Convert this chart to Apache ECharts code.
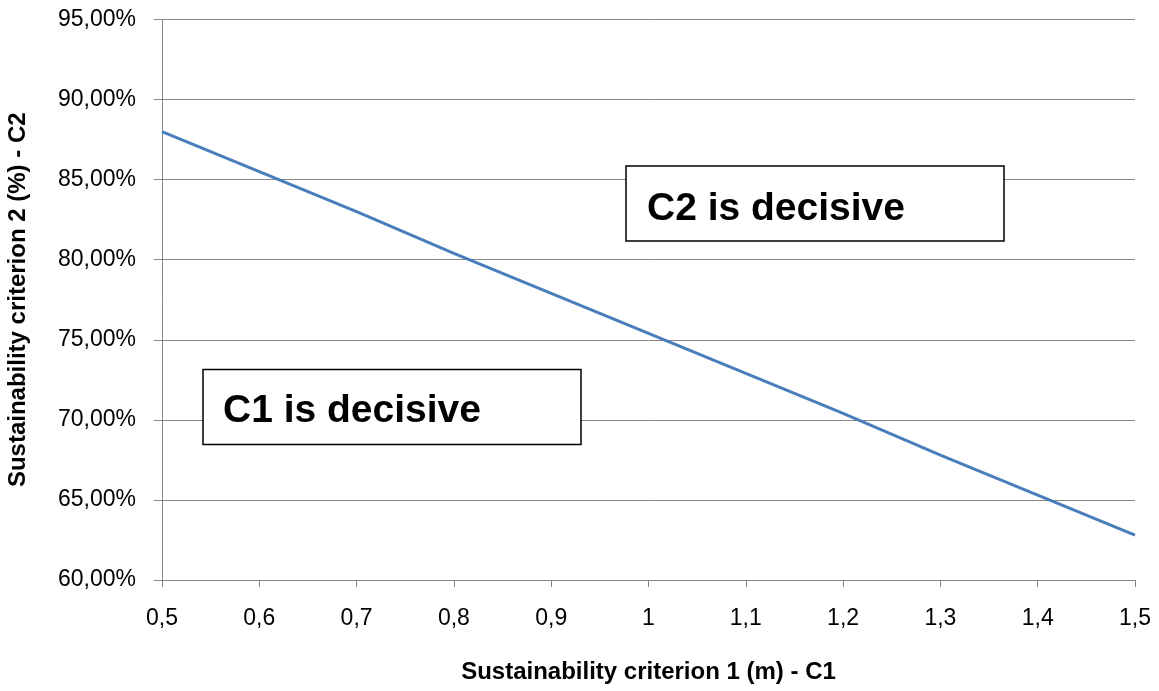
<!DOCTYPE html>
<html>
<head>
<meta charset="utf-8">
<script src="https://cdn.jsdelivr.net/npm/echarts@6/dist/echarts.min.js"></script>
<style>
html,body{margin:0;padding:0;background:#fff;}
#chart{width:1159px;height:691px;}
</style>
</head>
<body>
<div id="chart"></div>
<script>
// Data
var xCategories = ['0,5','0,6','0,7','0,8','0,9','1','1,1','1,2','1,3','1,4','1,5'];
var c2Values = [88.0, 85.5, 83.0, 80.4, 77.9, 75.4, 72.9, 70.4, 67.8, 65.3, 62.8];
var xTitle = 'Sustainability criterion 1 (m) - C1';
var yTitle = 'Sustainability criterion 2 (%) - C2';
var yMin = 60, yMax = 95, yStep = 5;
var boxC2 = 'C2 is decisive';
var boxC1 = 'C1 is decisive';

var FONT = '"Liberation Sans", Arial, sans-serif';
var chart = echarts.init(document.getElementById('chart'), null, {renderer:'canvas'});
var grid = {left:162, right:24, top:19.5, bottom:111, containLabel:false, outerBoundsMode:'none'};

chart.setOption({
  animation:false,
  backgroundColor:'#ffffff',
  grid: grid,
  xAxis:{
    type:'category',
    data:xCategories,
    boundaryGap:false,
    name:xTitle,
    nameLocation:'middle',
    nameGap:80,
    nameTextStyle:{fontFamily:FONT,fontWeight:'bold',fontSize:24,color:'#000'},
    axisLine:{lineStyle:{color:'#868686',width:1}},
    axisTick:{show:true,length:7,lineStyle:{color:'#868686'}},
    axisLabel:{fontFamily:FONT,fontSize:23,color:'#000',margin:27},
    splitLine:{show:false}
  },
  yAxis:{
    type:'value',
    min:yMin,max:yMax,interval:yStep,
    name:yTitle,
    nameLocation:'middle',
    nameGap:132,
    nameRotate:90,
    nameTextStyle:{fontFamily:FONT,fontWeight:'bold',fontSize:24,color:'#000'},
    axisLine:{show:true,lineStyle:{color:'#868686',width:1}},
    axisTick:{show:true,length:8,lineStyle:{color:'#868686'}},
    axisLabel:{fontFamily:FONT,fontSize:23,color:'#000',margin:26,
      formatter:function(v){return v.toFixed(2).replace('.',',')+'%';}},
    splitLine:{show:true,lineStyle:{color:'#868686',width:1}}
  },
  series:[{
    type:'line',
    data:c2Values,
    symbol:'none',
    lineStyle:{color:'#4A7EBB',width:3},
    z:3
  }],
  graphic:[
    {type:'rect',shape:{x:626,y:166,width:378,height:75},style:{fill:'#fff',stroke:'#000',lineWidth:1.5},z:10},
    {type:'text',style:{x:647,y:209,text:boxC2,fontFamily:FONT,fontWeight:'bold',fontSize:39,fill:'#000',textVerticalAlign:'middle'},z:11},
    {type:'rect',shape:{x:203,y:369.5,width:378,height:75},style:{fill:'#fff',stroke:'#000',lineWidth:1.5},z:10},
    {type:'text',style:{x:223,y:411,text:boxC1,fontFamily:FONT,fontWeight:'bold',fontSize:39,fill:'#000',textVerticalAlign:'middle'},z:11}
  ]
});
</script>
</body>
</html>
